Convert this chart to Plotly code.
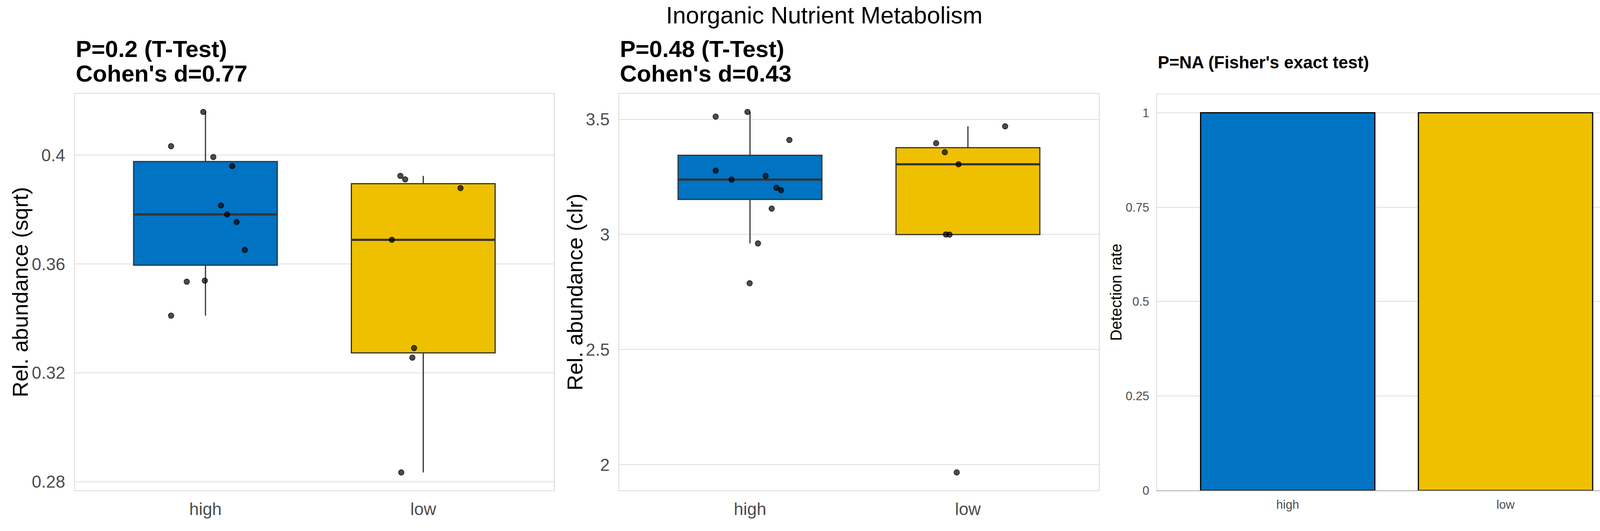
import numpy as np
import plotly.graph_objects as go

# ---------------- data ----------------
groups = ["high", "low"]
group_colors = ["#0073C2", "#EFC000"]

main_title = "Inorganic Nutrient Metabolism"
p1_title = ["P=0.2 (T-Test)", "Cohen's d=0.77"]
p2_title = ["P=0.48 (T-Test)", "Cohen's d=0.43"]
p3_title = "P=NA (Fisher's exact test)"
y_titles = ["Rel. abundance (sqrt)", "Rel. abundance (clr)", "Detection rate"]

# panel 1: sqrt relative abundance
sqrt_high = [0.4159, 0.4033, 0.3993, 0.3960, 0.3815, 0.3782, 0.3754, 0.3652, 0.3535, 0.3539, 0.3410]
sqrt_high_jitter = [-0.010, -0.158, 0.036, 0.123, 0.071, 0.0995, 0.143, 0.181, -0.086, -0.003, -0.158]
sqrt_low = [0.3924, 0.3911, 0.3879, 0.3689, 0.3291, 0.3256, 0.2834]
sqrt_low_jitter = [-0.105, -0.083, 0.171, -0.144, -0.042, -0.050, -0.101]

# panel 2: clr relative abundance
clr_high = [3.5115, 3.532, 3.410, 3.277, 3.238, 3.254, 3.203, 3.192, 3.112, 2.961, 2.788]
clr_high_jitter = [-0.1575, -0.0116, 0.1807, -0.1575, -0.0845, 0.0713, 0.121, 0.1426, 0.0995, 0.0365, -0.0017]
clr_low = [3.396, 3.357, 3.3045, 3.4696, 3.000, 2.999, 1.9666]
clr_low_jitter = [-0.1459, -0.1061, -0.0431, 0.1708, -0.1011, -0.0845, -0.0514]

# panel 3: detection rate
detection_rate = [1.0, 1.0]

# tick labels
p1_ticks = [0.28, 0.32, 0.36, 0.4]
p1_ticktext = ["0.28", "0.32", "0.36", "0.4"]
p2_ticks = [2, 2.5, 3, 3.5]
p2_ticktext = ["2", "2.5", "3", "3.5"]
p3_ticks = [0, 0.25, 0.5, 0.75, 1]
p3_ticktext = ["0", "0.25", "0.5", "0.75", "1"]

# ---------------- figure ----------------
W, H = 4220, 1360
FONT = "Liberation Sans"
BOX_W = 0.66
BAR_W = 0.8
BOX_LINE = "#333333"
GRID = "#dedede"
BORDER = "#d9d9d9"
TICKC = "#4d4d4d"

fig = go.Figure()


def add_box_panel(xa, ya, series):
    for pos, (vals, jit, col) in enumerate(series):
        fig.add_trace(go.Box(
            y=vals, x0=pos, width=BOX_W, fillcolor=col,
            line=dict(color=BOX_LINE, width=3), whiskerwidth=0,
            boxpoints="outliers", marker=dict(opacity=0, size=1),
            quartilemethod="inclusive", xaxis=xa, yaxis=ya,
            hoverinfo="skip", showlegend=False))
    for pos, (vals, jit, col) in enumerate(series):
        med = float(np.median(vals))
        fig.add_trace(go.Scatter(
            x=[pos - BOX_W / 2, pos + BOX_W / 2], y=[med, med], mode="lines",
            line=dict(color=BOX_LINE, width=5.5), xaxis=xa, yaxis=ya,
            hoverinfo="skip", showlegend=False))
    for pos, (vals, jit, col) in enumerate(series):
        fig.add_trace(go.Scatter(
            x=[pos + j for j in jit], y=vals, mode="markers",
            marker=dict(size=14, color="rgba(0,0,0,0.7)",
                        line=dict(color="rgba(0,0,0,0.85)", width=1.5)),
            xaxis=xa, yaxis=ya, hoverinfo="skip", showlegend=False))


add_box_panel("x", "y", [(sqrt_high, sqrt_high_jitter, group_colors[0]),
                         (sqrt_low, sqrt_low_jitter, group_colors[1])])
add_box_panel("x2", "y2", [(clr_high, clr_high_jitter, group_colors[0]),
                           (clr_low, clr_low_jitter, group_colors[1])])

fig.add_trace(go.Bar(
    x=[0, 1], y=detection_rate, width=BAR_W,
    marker=dict(color=group_colors, line=dict(color="black", width=3)),
    xaxis="x3", yaxis="y3", hoverinfo="skip", showlegend=False))


def yrange(*arrs):
    allv = np.concatenate([np.asarray(a, float) for a in arrs])
    lo, hi = allv.min(), allv.max()
    pad = (hi - lo) * 0.05
    return [lo - pad, hi + pad]


x_domains = [[191.5 / W, 1418 / W], [1585.3 / W, 2812.6 / W], [2962 / W, 4188.7 / W]]
y_domain = [1 - 1273 / H, 1 - 243.7 / H]

big_tick = dict(family=FONT, size=44, color=TICKC)
small_tick = dict(family=FONT, size=31, color=TICKC)

common_x = dict(type="linear", range=[-0.6, 1.6], tickvals=[0, 1], ticktext=groups,
                showgrid=False, zeroline=False, ticks="", fixedrange=True)
common_y = dict(type="linear", showgrid=True, gridcolor=GRID, gridwidth=1.5,
                zeroline=False, ticks="", fixedrange=True)

layout_axes = {}
layout_axes["xaxis"] = dict(common_x, domain=x_domains[0], anchor="y",
                            tickfont=big_tick, ticklabelstandoff=8,
                            showline=True, mirror=True, linecolor=BORDER, linewidth=1.5)
layout_axes["yaxis"] = dict(common_y, domain=y_domain, anchor="x",
                            range=yrange(sqrt_high, sqrt_low),
                            tickvals=p1_ticks, ticktext=p1_ticktext,
                            tickfont=big_tick, ticklabelstandoff=14,
                            showline=True, mirror=True, linecolor=BORDER, linewidth=1.5)
layout_axes["xaxis2"] = dict(common_x, domain=x_domains[1], anchor="y2",
                             tickfont=big_tick, ticklabelstandoff=8,
                             showline=True, mirror=True, linecolor=BORDER, linewidth=1.5)
layout_axes["yaxis2"] = dict(common_y, domain=y_domain, anchor="x2",
                             range=yrange(clr_high, clr_low),
                             tickvals=p2_ticks, ticktext=p2_ticktext,
                             tickfont=big_tick, ticklabelstandoff=14,
                             showline=True, mirror=True, linecolor=BORDER, linewidth=1.5)
layout_axes["xaxis3"] = dict(common_x, domain=x_domains[2], anchor="y3",
                             tickfont=small_tick, ticklabelstandoff=8,
                             showline=True, mirror=False, linecolor="#aaaaaa", linewidth=1.5)
layout_axes["yaxis3"] = dict(common_y, domain=y_domain, anchor="x3",
                             range=[0, max(detection_rate) * 1.05],
                             tickvals=p3_ticks, ticktext=p3_ticktext,
                             tickfont=small_tick, ticklabelstandoff=12,
                             showline=True, mirror=True, linecolor=BORDER, linewidth=1.5)

annotations = []


def ann(text, x, y, size, bold=False, xanchor="left", angle=0, color="black"):
    annotations.append(dict(
        text=f"<b>{text}</b>" if bold else text, x=x, y=y, xref="paper", yref="paper",
        xanchor=xanchor, yanchor="middle", showarrow=False, textangle=angle,
        font=dict(family=FONT, size=size, color=color)))


ann(main_title, 2110 / W, 1 - 40 / H, 61, xanchor="center")
ann(p1_title[0], x_domains[0][0], 1 - 127.5 / H, 60, bold=True)
ann(p1_title[1], x_domains[0][0], 1 - 191.5 / H, 60, bold=True)
ann(p2_title[0], x_domains[1][0], 1 - 127.5 / H, 60, bold=True)
ann(p2_title[1], x_domains[1][0], 1 - 191.5 / H, 60, bold=True)
ann(p3_title, x_domains[2][0], 1 - 161.5 / H, 44, bold=True)
ann(y_titles[0], 51 / W, 1 - 758.5 / H, 56, xanchor="center", angle=-90)
ann(y_titles[1], 1471.7 / W, 1 - 758.5 / H, 56, xanchor="center", angle=-90)
ann(y_titles[2], 2857.5 / W, 1 - 758.5 / H, 40, xanchor="center", angle=-90)

shapes = [dict(type="line", xref="x3 domain", yref="y3 domain", x0=0, x1=1, y0=1, y1=1,
               line=dict(color=BORDER, width=1.5))]

fig.update_layout(
    width=W, height=H, margin=dict(l=0, r=0, t=0, b=0),
    paper_bgcolor="white", plot_bgcolor="white",
    font=dict(family=FONT), showlegend=False, boxmode="overlay",
    annotations=annotations, shapes=shapes, **layout_axes)

fig.write_html("out.html",
               post_script="document.body.style.margin='0';document.body.style.overflow='hidden';")
